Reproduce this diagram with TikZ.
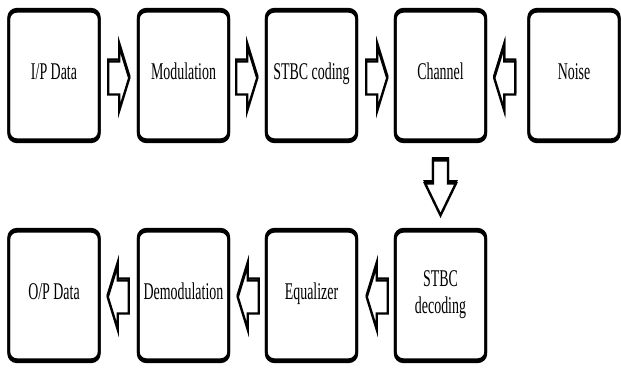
\documentclass[tikz,border=0pt]{standalone}
\usepackage{graphicx}
\usepackage{fontspec}
\setmainfont{Liberation Serif}
\usetikzlibrary{calc}

% condensed block label, one or more centred lines
\newcommand\boxtext[1]{\scalebox{0.58}[1]{\begin{tabular}{@{}c@{}}#1\end{tabular}}}

\tikzset{
  block/.style={draw, line width=2.8pt, rounded corners=8pt, fill=white,
    minimum width=90.5pt, minimum height=130.4pt, inner sep=0pt, outer sep=0pt,
    font=\fontsize{24}{27}\selectfont},
  frame/.style={draw, line width=2.8pt, rounded corners=8pt},
  arrowline/.style={draw, line width=2.4pt, line join=miter, fill=white},
  % hollow block arrows, each placed by its tip
  pics/rarrow/.style={code={
    \foreach \s in {0,-2}{
      \draw[arrowline, yshift=\s pt] (0,0) -- (-10,-32.5) -- (-10,-16.5) -- (-21,-16.5)
        -- (-21,16.5) -- (-10,16.5) -- (-10,32.5) -- cycle;}}},
  pics/larrow/.style={code={
    \foreach \s in {0,-2}{
      \draw[arrowline, yshift=\s pt] (0,0) -- (10,-32.5) -- (10,-16.5) -- (21,-16.5)
        -- (21,16.5) -- (10,16.5) -- (10,32.5) -- cycle;}}},
  pics/darrow/.style={code={
    \foreach \s in {0,-2}{
      \draw[arrowline, yshift=\s pt] (0,0) -- (-15.5,-32) -- (-7.5,-32) -- (-7.5,-55)
        -- (7.5,-55) -- (7.5,-32) -- (15.5,-32) -- cycle;}}},
}

\begin{document}
\begin{tikzpicture}[x=1pt, y=-1pt]
\fill[white] (0,0) rectangle (621,370);
\useasboundingbox (0,0) rectangle (621,370);

% transmitter row
\node[block] (ip)    at (54,74.5)    {\boxtext{I/P Data}};
\node[block] (mod)   at (183.5,74.5) {\boxtext{Modulation}};
\node[block] (enc)   at (311.5,74.5) {\boxtext{STBC coding}};
\node[block] (chan)  at (440.5,74.5) {\boxtext{Channel}};
\node[block] (noise) at (574,74.5)   {\boxtext{Noise}};

% receiver row
\node[block] (op)    at (54,294.5)    {\boxtext{O/P Data}};
\node[block] (demod) at (183.5,294.5) {\boxtext{Demodulation}};
\node[block] (eq)    at (311.5,294.5) {\boxtext{Equalizer}};
\node[block] (dec)   at (440.5,294.5) {\boxtext{STBC\\decoding}};

% heavier top and bottom edges
\foreach \n in {ip,mod,enc,chan,noise,op,demod,eq,dec}
  \draw[frame] ([yshift=-2pt]\n.north west) rectangle ([yshift=-2pt]\n.south east);

% flow between blocks
\pic at ($(mod.west)+(-9,1.5)$)  {rarrow};
\pic at ($(enc.west)+(-9,1.5)$)  {rarrow};
\pic at ($(chan.west)+(-8,1.5)$) {rarrow};
\pic at ($(chan.east)+(8.5,1.5)$) {larrow};
\pic at ($(dec.north)+(0,-16)$)  {darrow};
\pic at ($(eq.east)+(10,0.5)$)   {larrow};
\pic at ($(demod.east)+(9,0.5)$) {larrow};
\pic at ($(op.east)+(8.5,0.5)$)  {larrow};
\end{tikzpicture}
\end{document}
